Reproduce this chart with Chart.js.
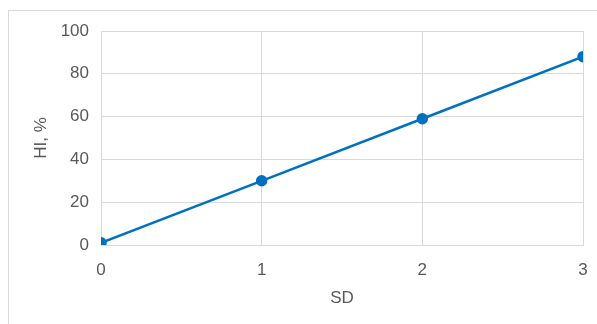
<!DOCTYPE html>
<html>
<head>
<meta charset="utf-8">
<script src="https://cdn.jsdelivr.net/npm/chart.js@4/dist/chart.umd.min.js"></script>
<style>
  html, body { margin: 0; padding: 0; background: #fff; }
  #wrap { position: relative; width: 597px; height: 324px; overflow: hidden; }
  #frame { position: absolute; left: 8px; top: 10px; width: 600px; height: 330px;
           border: 1px solid #d9d9d9; box-sizing: border-box; }
  canvas { position: absolute; left: 0; top: 0; }
</style>
</head>
<body>
<div id="wrap">
  <div id="frame"></div>
  <canvas id="chart" width="597" height="324"></canvas>
</div>
<script>
// SD vs HI (%) readings
const sdValues = [0, 1, 2, 3];
const hiValues = [1, 30, 59, 88];
const xTicks = [0, 1, 2, 3];
const yTicks = [0, 20, 40, 60, 80, 100];

const textColor = '#595959';
const gridColor = '#d9d9d9';
const font = { family: '"Liberation Sans", Arial, sans-serif', size: 17 };

new Chart(document.getElementById('chart'), {
  type: 'line',
  data: {
    datasets: [{
      data: sdValues.map((x, i) => ({ x, y: hiValues[i] })),
      borderColor: '#0070c0',
      backgroundColor: '#0070c0',
      borderWidth: 2.5,
      pointRadius: 4.5,
      pointHoverRadius: 4.5,
      clip: 0,
      tension: 0
    }]
  },
  options: {
    responsive: false,
    animation: false,
    devicePixelRatio: 1,
    layout: { padding: { left: 0, right: 14, top: 31, bottom: 0 } },
    plugins: { legend: { display: false }, tooltip: { enabled: false } },
    scales: {
      x: {
        type: 'linear',
        min: 0, max: 3,
        afterBuildTicks: s => { s.ticks = xTicks.map(v => ({ value: v })); },
        afterFit: s => { s.height = 79; s.paddingLeft = 0; s.paddingRight = 0; },
        grid: { color: gridColor, lineWidth: 1, drawTicks: false },
        border: { color: gridColor },
        ticks: { color: textColor, font, padding: 15 },
        title: { display: true, text: 'SD', color: textColor, font, padding: { top: 4, bottom: 15 } }
      },
      y: {
        min: 0, max: 100,
        afterBuildTicks: s => { s.ticks = yTicks.map(v => ({ value: v })); },
        afterFit: s => { s.width = 101; s.paddingTop = 0; s.paddingBottom = 0; },
        grid: { color: gridColor, lineWidth: 1, drawTicks: false },
        border: { color: gridColor },
        ticks: { color: textColor, font, padding: 12 },
        title: { display: true, text: 'HI, %', color: textColor, font, padding: { top: 31, bottom: 4 } }
      }
    }
  }
});
</script>
</body>
</html>
